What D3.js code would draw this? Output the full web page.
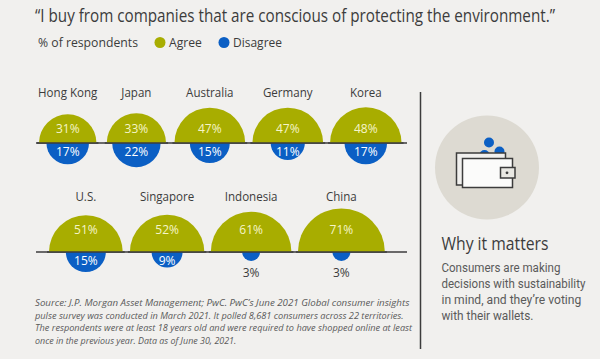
<!DOCTYPE html>
<html>
<head>
<meta charset="utf-8">
<script src="https://cdn.jsdelivr.net/npm/d3@7"></script>
<style>
    html, body { margin: 0; padding: 0; background: #f1f0ee; }
    svg { display: block; }
    text { font-family: "Open Sans", "Noto Sans", sans-serif; }
    text.body { font-family: Roboto, "Open Sans", sans-serif; }
</style>
</head>
<body>
<svg id="chart" width="600" height="359"></svg>
<script>
const topCountries = ["Hong Kong", "Japan", "Australia", "Germany", "Korea"];
const topAgree = [31, 33, 47, 47, 48];
const topDisagree = [17, 22, 15, 11, 17];

const bottomCountries = ["U.S.", "Singapore", "Indonesia", "China"];
const bottomAgree = [51, 52, 61, 71];
const bottomDisagree = [15, 9, 3, 3];

const sourceLines = [
    "Source: J.P. Morgan Asset Management; PwC. PwC\u2019s June 2021 Global consumer insights",
    "pulse survey was conducted in March 2021. It polled 8,681 consumers across 22 territories.",
    "The respondents were at least 18 years old and were required to have shopped online at least",
    "once in the previous year. Data as of June 30, 2021."
];
const whyLines = [
    "Consumers are making",
    "decisions with sustainability",
    "in mind, and they\u2019re voting",
    "with their wallets."
];

const green = "#a8ad00", blue = "#0b5fc4", dark = "#3c3c3c", grey = "#5a5a5a", cream = "#dddad2";
const condense = 0.89;

const svg = d3.select("#chart");
// one scale for both semicircles, area follows the percentage
const radius = d3.scaleSqrt().domain([0, 100]).range([0, 51.6]);
const half = d3.arc().innerRadius(0);

// the original face is narrow, so every text is squeezed; width = measured width of the line
function label(x, y, str, size, fill, anchor, width, italic, cls) {
    const t = svg.append("text")
        .attr("class", cls || null)
        .attr("font-size", size)
        .attr("fill", fill)
        .attr("text-anchor", anchor || "start")
        .attr("font-style", italic ? "italic" : "normal")
        .text(str);
    const natural = t.node().getComputedTextLength();
    const sx = width ? width / natural : condense;
    t.attr("transform", `translate(${x},${y}) scale(${sx},1)`);
    return t;
}

function drawRow(countries, agree, disagree, cfg) {
    svg.append("line")
        .attr("x1", 36).attr("x2", 407)
        .attr("y1", cfg.base).attr("y2", cfg.base)
        .attr("stroke", dark).attr("stroke-width", 1.6);

    // pack the domes from the left edge, each one next to the previous
    let edge = cfg.start;
    countries.forEach((name, i) => {
        const r = radius(agree[i]);
        const cx = edge + r;
        edge = cx + r + (cfg.gaps[i] || 0);

        const g = svg.append("g").attr("transform", `translate(${cx},${cfg.base})`);
        g.append("path")
            .attr("d", half({ outerRadius: r, startAngle: -Math.PI / 2, endAngle: Math.PI / 2 }))
            .attr("fill", green);
        g.append("path")
            .attr("d", half({ outerRadius: radius(disagree[i]), startAngle: Math.PI / 2, endAngle: Math.PI * 1.5 }))
            .attr("fill", blue);
        g.append("line")
            .attr("x1", -r - 2).attr("x2", r + 2)
            .attr("stroke", dark).attr("stroke-width", 1.6);

        label(cx, cfg.nameY, name, 13, dark, "middle");
        label(cx, cfg.agreeY, agree[i] + "%", 13.5, "#f6f5c8", "middle");
        if (disagree[i] < 5) {
            label(cx, cfg.outsideY, disagree[i] + "%", 13.5, dark, "middle");
        } else {
            label(cx, cfg.disagreeY, disagree[i] + "%", 13.5, "#ffffff", "middle");
        }
    });
}

label(35, 22, "\u201CI buy from companies that are conscious of protecting the environment.\u201D", 17.8, dark, "start", 520);

label(38, 47, "% of respondents", 12.5, dark, "start", 100);
svg.append("circle").attr("cx", 160).attr("cy", 42.5).attr("r", 5.5).attr("fill", green);
label(169, 47, "Agree", 12.5, dark, "start", 33);
svg.append("circle").attr("cx", 224).attr("cy", 42.5).attr("r", 5.5).attr("fill", blue);
label(233, 47, "Disagree", 12.5, dark, "start", 49);

drawRow(topCountries, topAgree, topDisagree, {
    base: 143, start: 39, gaps: [10.3, 8.4, 7.2, 6.9],
    nameY: 97, agreeY: 133, disagreeY: 155.5, outsideY: 0
});
drawRow(bottomCountries, bottomAgree, bottomDisagree, {
    base: 252, start: 49, gaps: [7.2, 6.5, 6.5],
    nameY: 201, agreeY: 234, disagreeY: 265, outsideY: 277
});

sourceLines.forEach((line, i) => {
    label(35, 306 + i * 12.7, line, 9.4, grey, "start", [374, 368, 377, 201][i], true);
});

// divider
svg.append("line")
    .attr("x1", 420.5).attr("x2", 420.5).attr("y1", 92).attr("y2", 349)
    .attr("stroke", dark).attr("stroke-width", 1.5);

// wallet icon
svg.append("circle").attr("cx", 487).attr("cy", 167.5).attr("r", 52).attr("fill", cream);
svg.append("circle").attr("cx", 489).attr("cy", 142.5).attr("r", 5).attr("fill", blue);
svg.append("circle").attr("cx", 499.5).attr("cy", 151.5).attr("r", 5).attr("fill", blue);
svg.append("circle").attr("cx", 484.5).attr("cy", 155).attr("r", 5).attr("fill", blue);
svg.append("rect").attr("x", 456.5).attr("y", 153).attr("width", 49).attr("height", 32)
    .attr("fill", "#f1f0ee").attr("stroke", dark).attr("stroke-width", 1.5);
svg.append("rect").attr("x", 462.5).attr("y", 158.5).attr("width", 50).attr("height", 29)
    .attr("fill", "#fbfbfa").attr("stroke", dark).attr("stroke-width", 1.5);
svg.append("rect").attr("x", 500.5).attr("y", 167.5).attr("width", 14.5).attr("height", 10.5)
    .attr("fill", "#e9e8e3").attr("stroke", dark).attr("stroke-width", 1.5);
svg.append("circle").attr("cx", 507).attr("cy", 172.8).attr("r", 1.4).attr("fill", dark);

label(441.5, 250, "Why it matters", 17.3, dark, "start", 107);
whyLines.forEach((line, i) => {
    label(441.5, 271.5 + i * 16.2, line, 13, grey, "start", [119, 144, 140, 92][i], false, "body");
});
</script>
</body>
</html>
